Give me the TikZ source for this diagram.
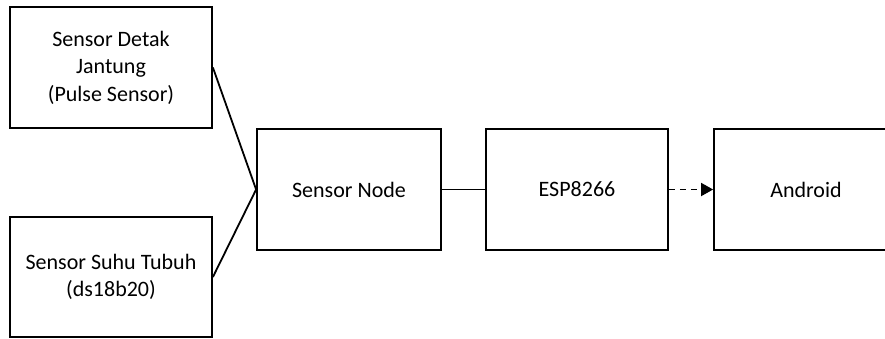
\documentclass[tikz,border=0pt]{standalone}
\usepackage{fontspec}
\setmainfont{Carlito}
\usetikzlibrary{arrows.meta}
\begin{document}
\begin{tikzpicture}[x=1pt,y=-1pt,
  blk/.style={draw=black,line width=1.8pt,fill=white,inner sep=0pt,align=center,
    font=\fontsize{22}{27.5}\selectfont},
  conn/.style={line width=1.8pt,black},
  dconn/.style={line width=1.8pt,black,dash pattern=on 6.5pt off 4.5pt,
    -{Triangle[length=12pt,width=13pt]}}]
\useasboundingbox (0,0) rectangle (885,338);
\clip (0,0) rectangle (885,338);
\node[blk,minimum width=202pt,minimum height=121pt] (s1) at (111,67.5) {Sensor Detak\\Jantung\\(Pulse Sensor)};
\node[blk,minimum width=202pt,minimum height=120.5pt] (s2) at (111,277) {Sensor Suhu Tubuh\\(ds18b20)};
\node[blk,minimum width=184pt,minimum height=121pt] (sn) at (349,189.5) {Sensor Node};
\node[blk,minimum width=182pt,minimum height=121pt] (esp) at (577,189.5) {ESP8266};
\node[blk,minimum width=184pt,minimum height=121pt] (and) at (806,189.5) {Android};
\draw[conn] (s1.east) -- (sn.west);
\draw[conn] (s2.east) -- (sn.west);
\draw[conn] (sn.east) -- (esp.west);
\draw[dconn] (esp.east) -- (and.west);
\end{tikzpicture}
\end{document}
